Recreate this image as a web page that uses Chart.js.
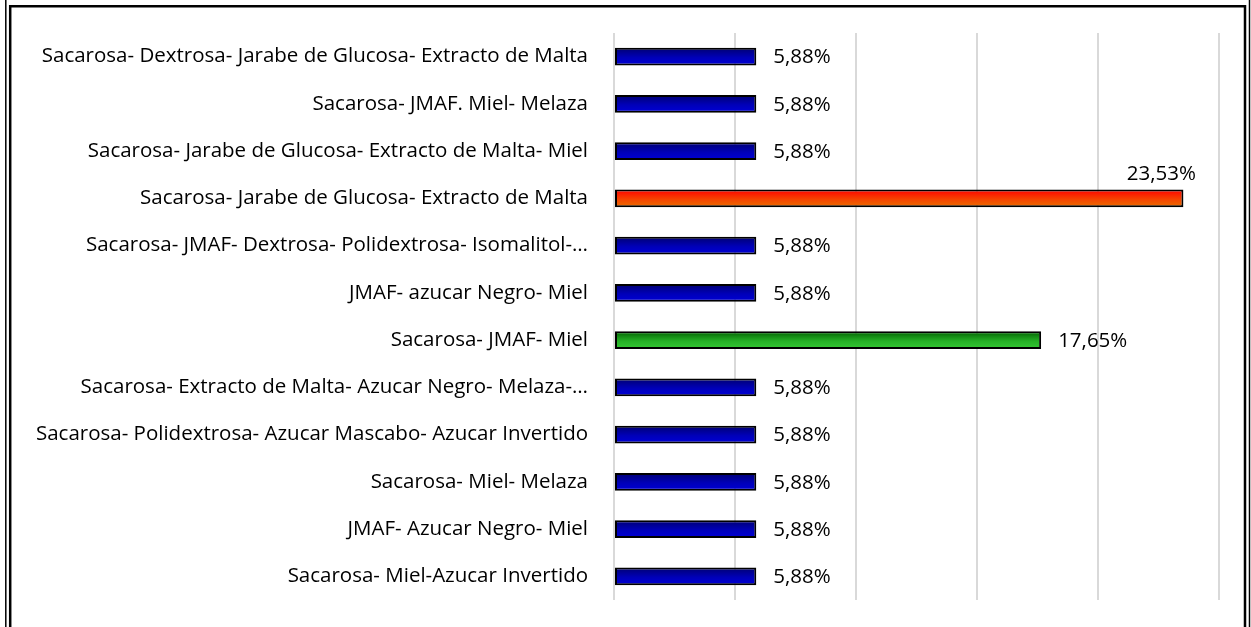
<!DOCTYPE html>
<html>
<head>
<meta charset="utf-8">
<script src="https://cdn.jsdelivr.net/npm/chart.js@4"></script>
<style>
  html, body { margin: 0; padding: 0; background: #ffffff; }
  #wrap { width: 1251px; height: 627px; position: relative; }
</style>
</head>
<body>
<div id="wrap"><canvas id="c" width="1251" height="627"></canvas></div>
<script>
const categories = [
  "Sacarosa- Dextrosa- Jarabe de Glucosa- Extracto de Malta",
  "Sacarosa- JMAF. Miel- Melaza",
  "Sacarosa- Jarabe de Glucosa- Extracto de Malta- Miel",
  "Sacarosa- Jarabe de Glucosa- Extracto de Malta",
  "Sacarosa- JMAF- Dextrosa- Polidextrosa- Isomalitol-…",
  "JMAF- azucar Negro- Miel",
  "Sacarosa- JMAF- Miel",
  "Sacarosa- Extracto de Malta- Azucar Negro- Melaza-…",
  "Sacarosa- Polidextrosa- Azucar Mascabo- Azucar Invertido",
  "Sacarosa- Miel- Melaza",
  "JMAF- Azucar Negro- Miel",
  "Sacarosa- Miel-Azucar Invertido"
];
const percentages = [5.88, 5.88, 5.88, 23.53, 5.88, 5.88, 17.65, 5.88, 5.88, 5.88, 5.88, 5.88];
const barColorKeys = ["blue","blue","blue","red","blue","blue","green","blue","blue","blue","blue","blue"];
const xTicks = [0, 5, 10, 15, 20, 25];

const FONT = "'Open Sans', sans-serif";
const FONT_SIZE = 20.5;
const BAR_PCT = 0.38;

const gradientStops = {
  blue:  ["#000070", "#0000b8", "#0000d8"],
  red:   ["#ff0000", "#f54300", "#e87000"],
  green: ["#006000", "#25b025", "#35c835"]
};

function barGradient(c) {
  const chart = c.chart;
  const area = chart.chartArea;
  const y = chart.scales.y;
  const key = barColorKeys[c.dataIndex] || 'blue';
  const s = gradientStops[key];
  if (!area || !y) return s[1];
  const center = y.getPixelForValue(c.dataIndex);
  const half = (area.height / categories.length) * BAR_PCT / 2;
  const g = chart.ctx.createLinearGradient(0, center - half, 0, center + half);
  g.addColorStop(0, s[0]);
  g.addColorStop(0.55, s[1]);
  g.addColorStop(1, s[2]);
  return g;
}

const labelPlugin = {
  id: 'valueLabels',
  afterDatasetsDraw(chart) {
    const ctx = chart.ctx;
    const meta = chart.getDatasetMeta(0);
    const area = chart.chartArea;
    ctx.save();
    ctx.font = FONT_SIZE + "px " + FONT;
    ctx.fillStyle = "#000000";
    meta.data.forEach((el, i) => {
      const txt = percentages[i].toFixed(2).replace('.', ',') + '%';
      const w = ctx.measureText(txt).width;
      const x = el.x + 17;
      if (x + w > area.right) {
        ctx.textAlign = 'center';
        ctx.textBaseline = 'bottom';
        ctx.fillText(txt, el.x - 22, el.y - el.height / 2 - 5);
      } else {
        ctx.textAlign = 'left';
        ctx.textBaseline = 'middle';
        ctx.fillText(txt, x, el.y + 1);
      }
    });
    ctx.restore();
  }
};

const framePlugin = {
  id: 'frame',
  afterDraw(chart) {
    const ctx = chart.ctx;
    ctx.save();
    ctx.strokeStyle = "#000000";
    ctx.lineWidth = 1.5;
    ctx.beginPath();
    ctx.moveTo(5.8, 0); ctx.lineTo(5.8, 627);
    ctx.moveTo(1249.5, 0); ctx.lineTo(1249.5, 627);
    ctx.stroke();
    ctx.lineWidth = 2.5;
    ctx.beginPath();
    ctx.moveTo(10.2, 627); ctx.lineTo(10.2, 6.2); ctx.lineTo(1245, 6.2); ctx.lineTo(1245, 627);
    ctx.stroke();
    ctx.restore();
  }
};

new Chart(document.getElementById('c'), {
  type: 'bar',
  data: {
    labels: categories,
    datasets: [{
      data: percentages,
      backgroundColor: barGradient,
      borderColor: '#000000',
      borderWidth: 2,
      borderSkipped: false,
      barPercentage: BAR_PCT,
      categoryPercentage: 1.0
    }]
  },
  options: {
    indexAxis: 'y',
    responsive: false,
    animation: false,
    layout: { padding: { top: 33, right: 32, bottom: 27, left: 0 } },
    plugins: { legend: { display: false }, tooltip: { enabled: false } },
    scales: {
      x: {
        min: 0, max: 25,
        afterBuildTicks(scale) { scale.ticks = xTicks.map(v => ({ value: v })); },
        afterFit(scale) { scale.height = 0; scale.paddingLeft = 0; scale.paddingRight = 0; scale.paddingTop = 0; scale.paddingBottom = 0; },
        ticks: { display: false },
        grid: { color: '#d9d9d9', lineWidth: 2, drawTicks: false },
        border: { display: false }
      },
      y: {
        afterFit(scale) { scale.width = 614; scale.paddingTop = 0; scale.paddingBottom = 0; },
        ticks: {
          color: '#000000',
          padding: 26,
          font: { family: FONT, size: FONT_SIZE }
        },
        grid: { display: false, drawTicks: false },
        border: { display: false }
      }
    }
  },
  plugins: [labelPlugin, framePlugin]
});
</script>
</body>
</html>
